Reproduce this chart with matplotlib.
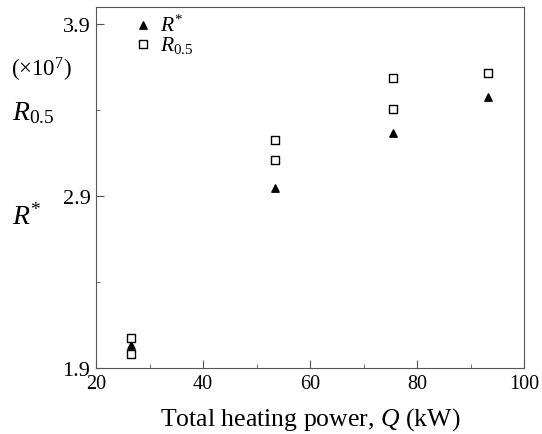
import matplotlib
matplotlib.use("Agg")
import matplotlib.pyplot as plt
from matplotlib.ticker import MultipleLocator

plt.rcParams['font.family'] = ['Liberation Serif', 'DejaVu Serif']
plt.rcParams['mathtext.fontset'] = 'custom'
plt.rcParams['mathtext.rm'] = 'Liberation Serif'
plt.rcParams['mathtext.it'] = 'Liberation Serif:italic'

# Data
q_rstar = [26.5, 53.5, 75.5, 93.3]
rstar = [2.034, 2.945, 3.266, 3.474]
q_r05 = [26.5, 26.5, 53.5, 53.5, 75.5, 75.5, 93.3]
r05 = [2.072, 1.980, 3.227, 3.109, 3.584, 3.406, 3.615]

fig = plt.figure(figsize=(5.42, 4.35), dpi=100)
ax = fig.add_axes([96/542, 1-369/435, (524-96)/542, (369-8)/435])

ax.scatter(q_rstar, rstar, marker='^', s=28, color='black', label=r'$R^{*}$', zorder=3)
ax.scatter(q_r05, r05, marker='s', s=26, facecolors='white', edgecolors='black',
           linewidths=1.0, label=r'$R_{0.5}$', zorder=3)

ax.set_xlim(20, 100)
ax.set_ylim(1.9, 3.999)
ax.xaxis.set_major_locator(MultipleLocator(20))
ax.xaxis.set_minor_locator(MultipleLocator(10))
ax.set_yticks([1.9, 2.9, 3.9])
ax.set_yticks([2.4, 3.4], minor=True)
ax.set_yticklabels(['1.9', '2.9', '3.9'])
ax.tick_params(which='both', direction='in', color='#555555')
ax.tick_params(axis='x', labelsize=14.5, pad=4)
ax.tick_params(axis='y', labelsize=16, pad=4)
ax.tick_params(which='major', length=6)
ax.tick_params(which='minor', length=3)
for s in ax.spines.values():
    s.set_color('#555555')

ax.set_xlabel(r'Total heating power, $Q$ (kW)', fontsize=18.5, labelpad=9)

fig.text(11/542, 1-70/435, r'($\times$10$^{7}$)', fontsize=16.5, ha='left', va='center')
fig.text(12/542, 1-120/435, r'$R_{0.5}$', fontsize=20, ha='left', va='baseline')
fig.text(12/542, 1-225/435, r'$R^{*}$', fontsize=20, ha='left', va='baseline')

leg = ax.legend(loc='upper left', bbox_to_anchor=(0.044, 1.02), frameon=False,
                fontsize=15.5, handletextpad=0.2, labelspacing=-0.1, borderpad=0.2,
                handlelength=1.2)

fig.savefig('out.png', dpi=100)
